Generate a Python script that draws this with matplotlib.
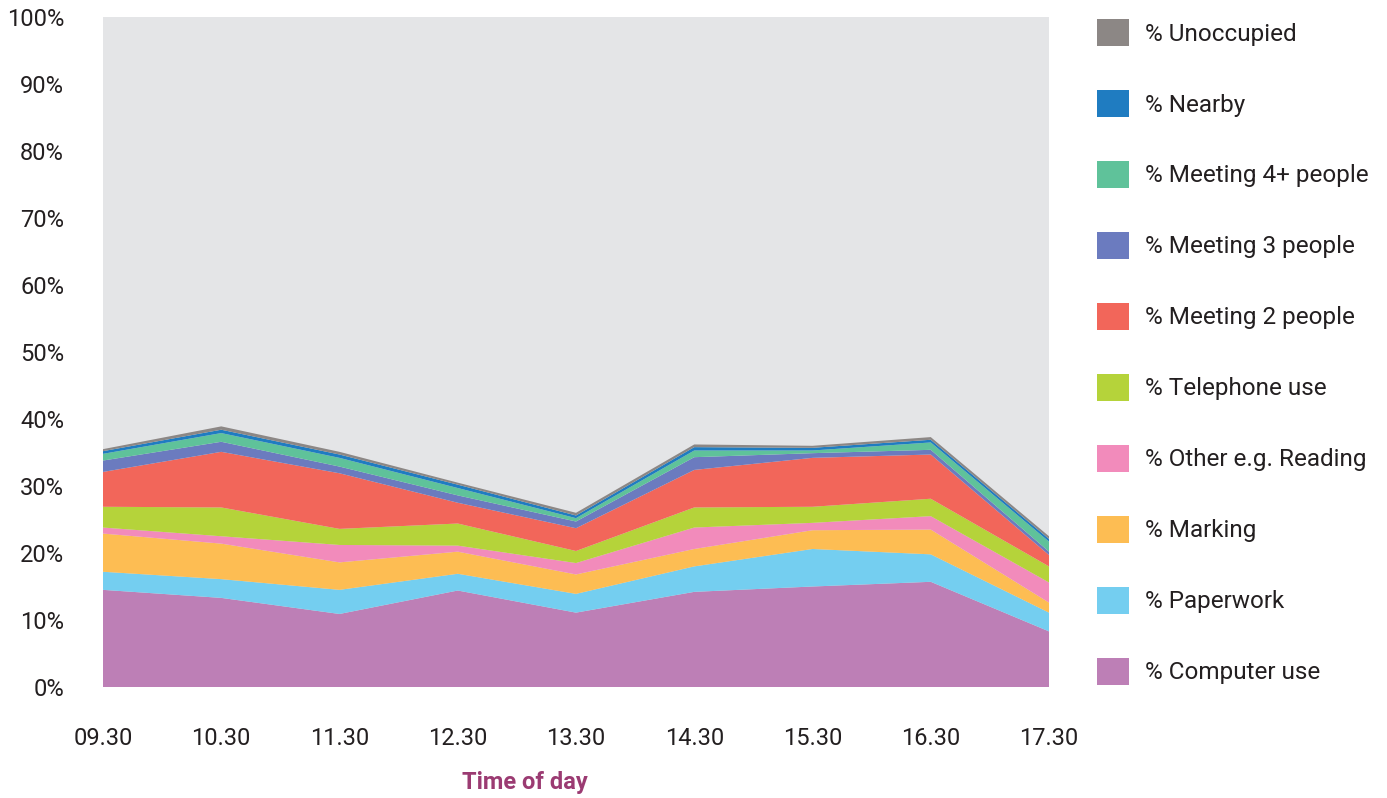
import matplotlib
matplotlib.use('Agg')
import matplotlib.pyplot as plt
from matplotlib.patches import Patch

plt.rcParams['font.family'] = ['Roboto', 'DejaVu Sans']

# time of day on the x axis
times = ['09.30', '10.30', '11.30', '12.30', '13.30', '14.30', '15.30', '16.30', '17.30']

# share of desks (%) per activity
computer = [14.5, 13.3, 10.9, 14.4, 11.1, 14.2, 15.0, 15.7, 8.3]
paperwork = [2.7, 2.8, 3.6, 2.5, 2.8, 3.8, 5.6, 4.1, 2.8]
marking = [5.7, 5.3, 4.1, 3.3, 2.9, 2.6, 2.8, 3.7, 1.5]
other = [0.9, 1.1, 2.6, 0.9, 1.7, 3.2, 1.1, 2.0, 3.0]
telephone = [3.1, 4.3, 2.4, 3.3, 1.8, 3.0, 2.4, 2.6, 2.4]
meeting2 = [5.2, 8.3, 8.3, 3.1, 3.4, 5.6, 7.3, 6.6, 1.7]
meeting3 = [1.7, 1.5, 1.0, 1.1, 1.0, 1.9, 0.7, 0.7, 0.5]
meeting4 = [1.0, 1.3, 1.3, 1.1, 0.5, 1.0, 0.4, 1.1, 1.5]
nearby = [0.4, 0.5, 0.5, 0.5, 0.4, 0.5, 0.4, 0.4, 0.4]
unoccupied = [0.3, 0.5, 0.4, 0.3, 0.4, 0.4, 0.3, 0.4, 0.4]

series = [computer, paperwork, marking, other, telephone,
          meeting2, meeting3, meeting4, nearby, unoccupied]
labels = ['% Computer use', '% Paperwork', '% Marking', '% Other e.g. Reading',
          '% Telephone use', '% Meeting 2 people', '% Meeting 3 people',
          '% Meeting 4+ people', '% Nearby', '% Unoccupied']
colors = ['#bd7fb6', '#74cef0', '#fdbd53', '#f28bbb', '#b5d33a',
          '#f2665a', '#6b7bbf', '#5fc29a', '#1f7cc1', '#8c8785']

fig = plt.figure(figsize=(13.87, 7.98), dpi=100)
ax = fig.add_axes([103 / 1387, 1 - 687 / 798, 946 / 1387, 670 / 798])
ax.set_facecolor('#e4e5e7')

x = list(range(len(times)))
ax.stackplot(x, *series, colors=colors, linewidth=0)

ax.set_xlim(0, len(times) - 1)
ax.set_ylim(0, 100)
for s in ax.spines.values():
    s.set_visible(False)

ax.set_xticks(x)
ax.set_xticklabels(times)
ax.set_yticks(range(0, 101, 10))
ax.set_yticklabels([f'{v}%' for v in range(0, 101, 10)])
ax.tick_params(axis='both', length=0, labelsize=17, colors='#231f20')
ax.tick_params(axis='y', pad=28)
ax.tick_params(axis='x', pad=29)

fig.text(525 / 1387, 1 - 783 / 798, 'Time of day', ha='center', va='center',
         fontsize=17, fontweight='bold', color='#9b3b72')

# legend, top entry first
handles = [Patch(facecolor=c, edgecolor='none') for c in colors]
fs = 17.5
sq = 32 / (fs * 100 / 72)
leg = fig.legend(handles[::-1], labels[::-1], loc='upper left',
                 bbox_to_anchor=(1097 / 1387, 1 - 19 / 798),
                 frameon=False, fontsize=fs, borderpad=0, borderaxespad=0,
                 handlelength=sq, handleheight=sq,
                 handletextpad=0.65, labelspacing=1.82)
for t in leg.get_texts():
    t.set_color('#231f20')

fig.savefig('out.png', dpi=100)
